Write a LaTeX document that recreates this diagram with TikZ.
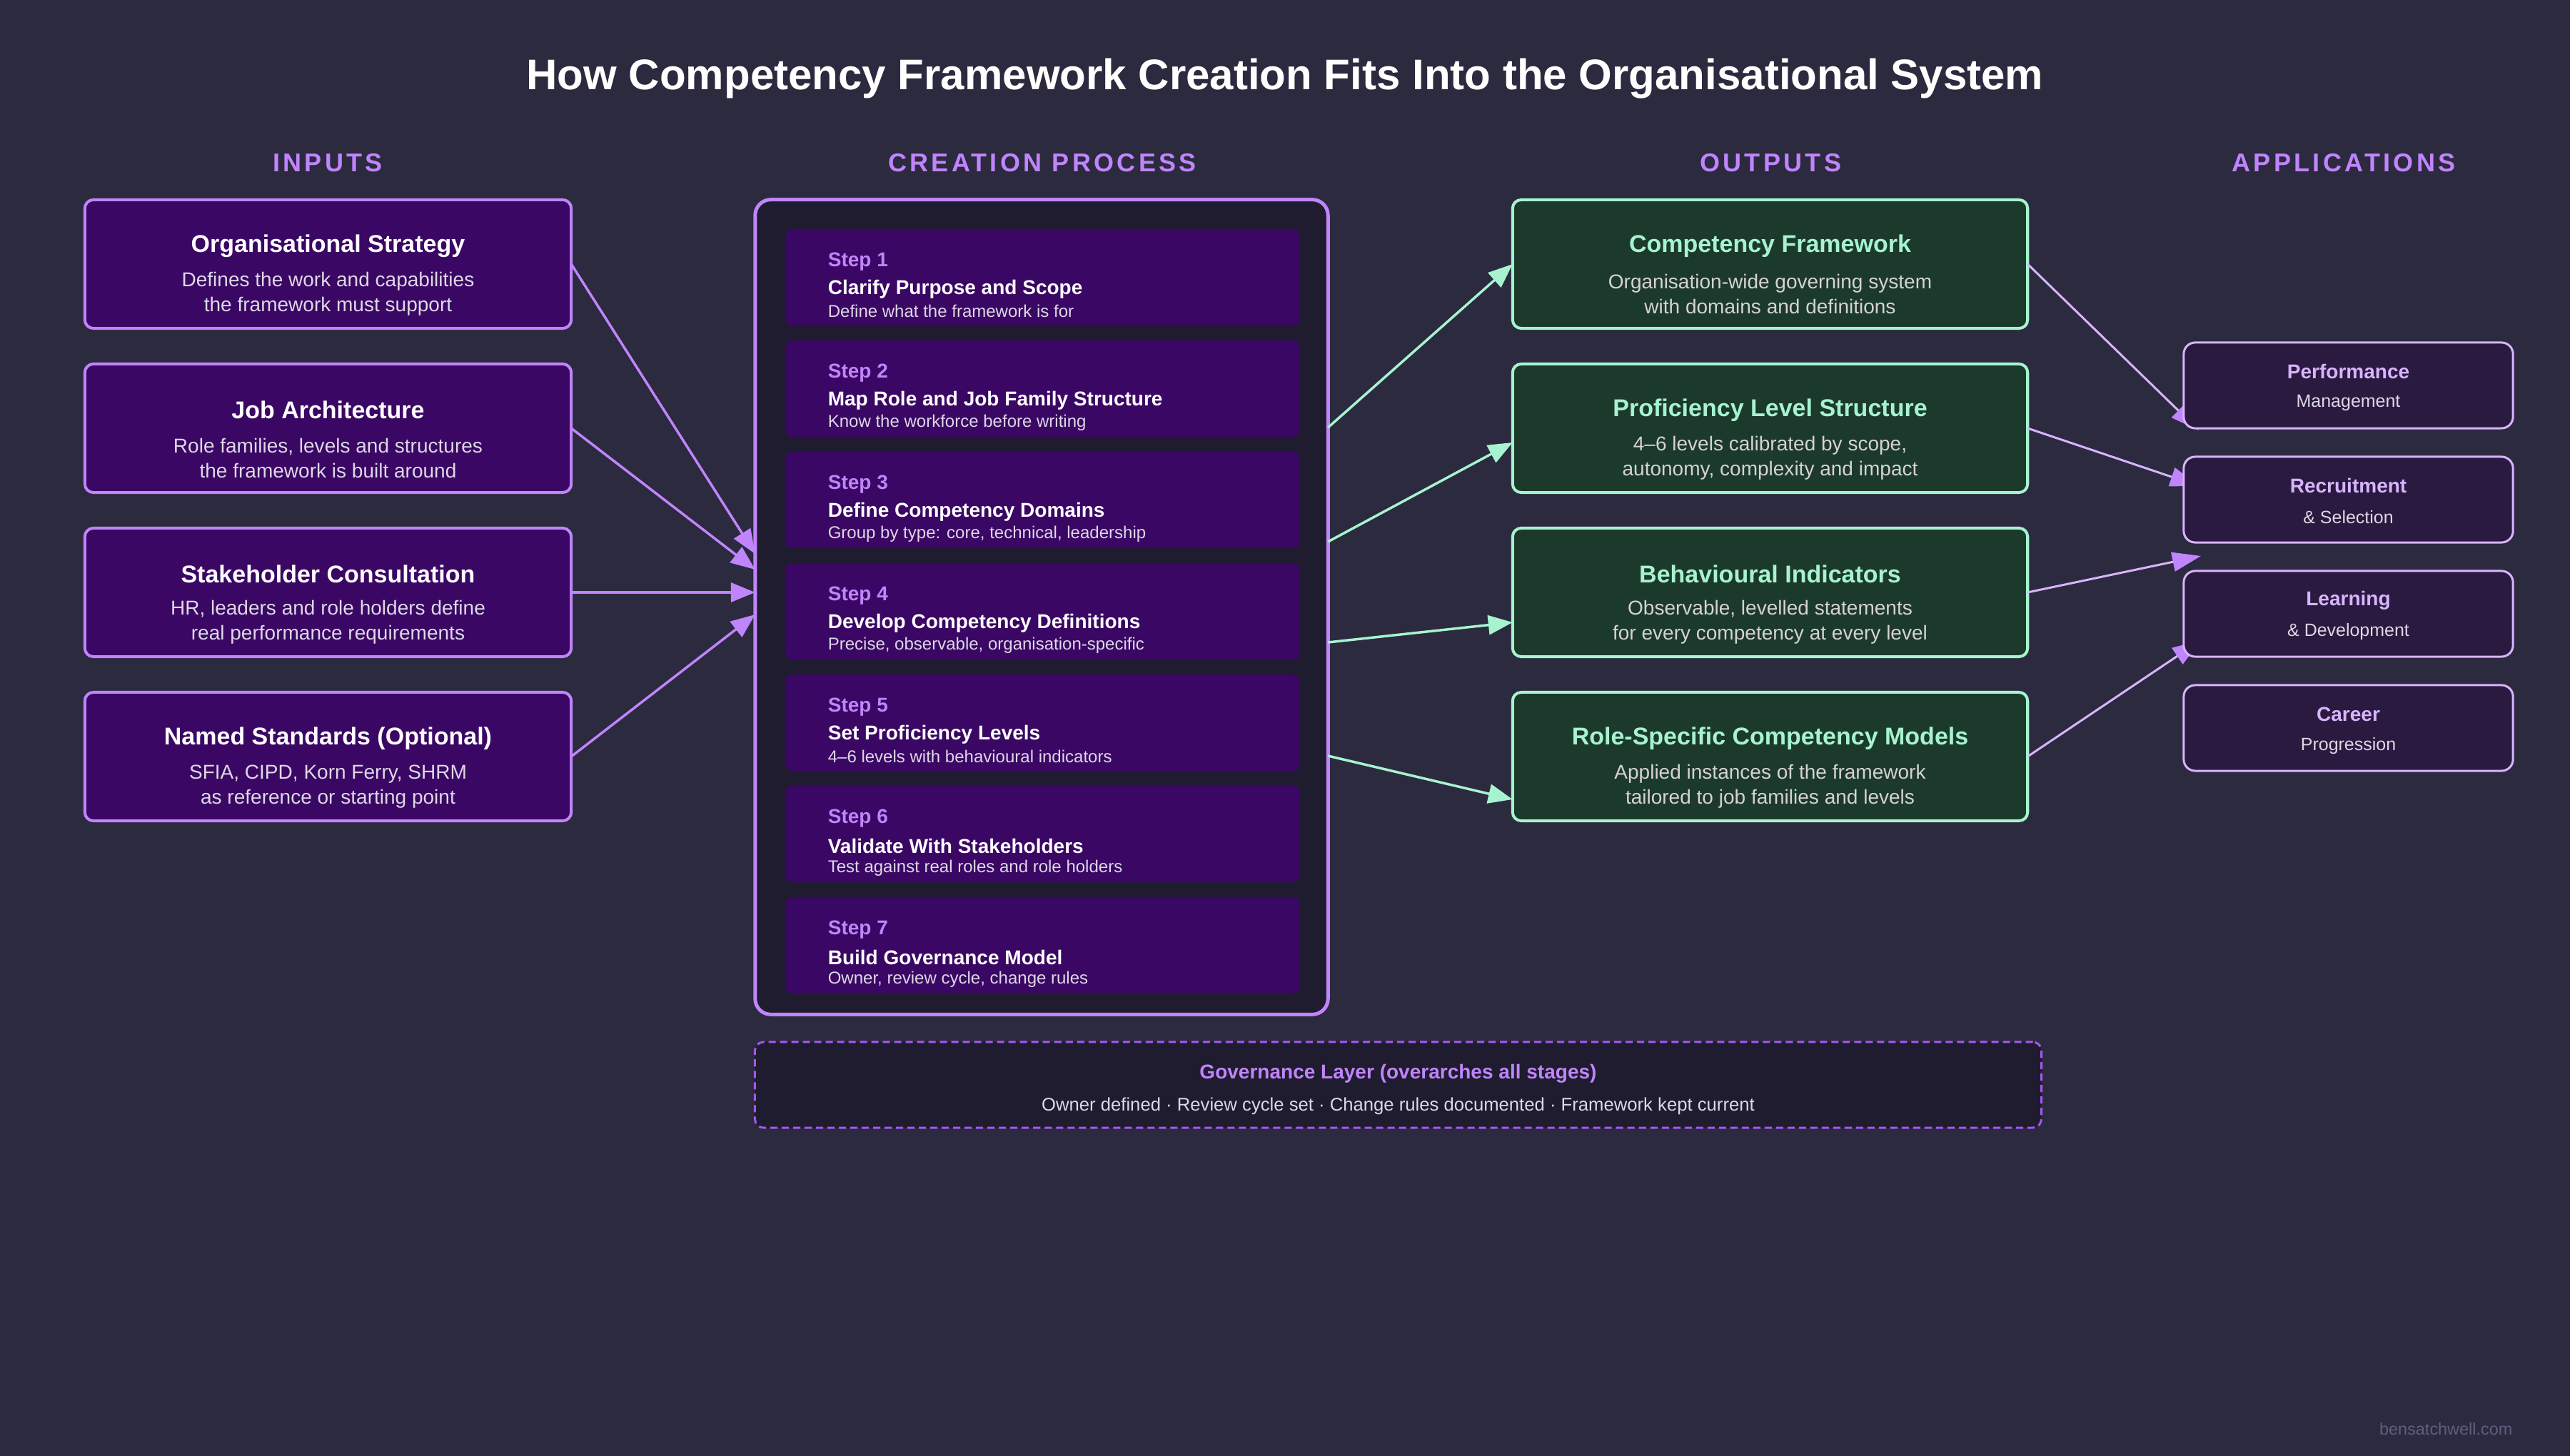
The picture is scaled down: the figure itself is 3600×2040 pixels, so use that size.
\documentclass[tikz,border=0pt]{standalone}
\usepackage{fontspec}
\setmainfont{Liberation Sans}
\newfontfamily\headfont[LetterSpace=12]{Liberation Sans}
\usepackage{tikz}
\usetikzlibrary{arrows.meta,positioning,calc}
\definecolor{cfBg}{HTML}{2B2A3E}
\definecolor{cfPanel}{HTML}{1E1C2E}
\definecolor{cfPurple}{HTML}{C084FC}
\definecolor{cfLilac}{HTML}{D8B4FE}
\definecolor{cfDeep}{HTML}{3B0764}
\definecolor{cfMint}{HTML}{A7F3D0}
\definecolor{cfGreen}{HTML}{1C3A2B}
\definecolor{cfApp}{HTML}{2A1A40}
\definecolor{cfDash}{HTML}{A855F7}
\definecolor{cfText}{HTML}{DDD8E6}
\definecolor{cfWarm}{HTML}{D6D3D1}
\definecolor{cfMark}{HTML}{5C6080}

\begin{document}
\begin{tikzpicture}[
  x=0.01cm, y=-0.01cm,
  inbox/.style={draw=cfPurple,fill=cfDeep,line width=0.4mm,rounded corners=1.2mm,
    minimum width=6.81cm,minimum height=1.8cm,inner sep=0pt,outer sep=0pt},
  outbox/.style={inbox,draw=cfMint,fill=cfGreen,minimum width=7.21cm},
  appbox/.style={draw=cfLilac,fill=cfApp,line width=0.3mm,rounded corners=1.6mm,
    minimum width=4.61cm,minimum height=1.2cm,inner sep=0pt,outer sep=0pt},
  stepbox/.style={fill=cfDeep,rounded corners=1mm,minimum width=7.21cm,
    minimum height=1.35cm,inner sep=0pt},
  panel/.style={draw=cfPurple,fill=cfPanel,line width=0.5mm,rounded corners=2.2mm,
    minimum width=8.02cm,minimum height=11.41cm,inner sep=0pt,outer sep=0pt},
  govbox/.style={draw=cfDash,fill=cfPanel,line width=0.3mm,rounded corners=1.2mm,
    dash pattern=on 1mm off 0.6mm,minimum width=18.01cm,minimum height=1.2cm,inner sep=0pt},
  hd/.style={font=\headfont\bfseries\fontsize{10.24pt}{12pt}\selectfont,text=cfPurple},
  bt/.style={font=\bfseries\fontsize{9.67pt}{11.6pt}\selectfont,text=white,inner sep=0pt},
  bd/.style={font=\fontsize{7.97pt}{9.96pt}\selectfont,text=cfText,align=center,inner sep=0pt},
  sl/.style={font=\bfseries\fontsize{7.97pt}{9.6pt}\selectfont,text=cfPurple,anchor=west,inner sep=0pt},
  st/.style={font=\bfseries\fontsize{7.97pt}{9.6pt}\selectfont,text=white,anchor=west,inner sep=0pt},
  sd/.style={font=\fontsize{6.83pt}{8pt}\selectfont,text=cfText,anchor=west,inner sep=0pt},
  apptitle/.style={font=\bfseries\fontsize{7.97pt}{9.6pt}\selectfont,text=cfLilac,inner sep=0pt},
  appsub/.style={font=\fontsize{7.1pt}{8.5pt}\selectfont,text=cfText,inner sep=0pt},
  artip/.style={-{Triangle[length=3.4mm,width=2.7mm]}},
  inar/.style={artip,draw=cfPurple,line width=0.35mm},
  outar/.style={artip,draw=cfMint,line width=0.35mm},
  appar/.style={-{Triangle[length=4mm,width=2.7mm,color=cfPurple]},draw=cfLilac,line width=0.3mm}
]
\fill[cfBg] (0,0) rectangle (3600,2040);
\useasboundingbox (0,0) rectangle (3600,2040);

% title and column heads
\node[font=\bfseries\fontsize{17.07pt}{20pt}\selectfont,text=white] (title) at (1800,110)
  {How Competency Framework Creation Fits Into the Organisational System};
\node[hd] (hIn) at (459,228) {INPUTS};
\node[hd] (hProc) at (1460,228) {CREATION PROCESS};
\node[hd] (hOut) at (2480,228) {OUTPUTS};
\node[hd] (hApp) at (3283,228) {APPLICATIONS};

% inputs
\node[inbox] (in1) at (459.5,370) {};
\node[inbox] (in2) at (459.5,600) {};
\node[inbox] (in3) at (459.5,830) {};
\node[inbox] (in4) at (459.5,1060) {};
\node[bt] (in1t) at ($(in1.north)+(0,64.5)$) {Organisational Strategy};
\node[bd] (in1d) at ($(in1.north)+(0,132)$) {Defines the work and capabilities\\the framework must support};
\node[bt] (in2t) at ($(in2.north)+(0,64.5)$) {Job Architecture};
\node[bd] (in2d) at ($(in2.north)+(0,132)$) {Role families, levels and structures\\the framework is built around};
\node[bt] (in3t) at ($(in3.north)+(0,64.5)$) {Stakeholder Consultation};
\node[bd] (in3d) at ($(in3.north)+(0,132)$) {HR, leaders and role holders define\\real performance requirements};
\node[bt] (in4t) at ($(in4.north)+(0,64.5)$) {Named Standards (Optional)};
\node[bd] (in4d) at ($(in4.north)+(0,132)$) {SFIA, CIPD, Korn Ferry, SHRM\\as reference or starting point};

% creation process
\node[panel] (proc) at (1459,850.5) {};
\foreach \i/\ttl/\dsc in {
  1/Clarify Purpose and Scope/Define what the framework is for,
  2/Map Role and Job Family Structure/Know the workforce before writing,
  3/Define Competency Domains/{Group by type: core, technical, leadership},
  4/Develop Competency Definitions/{Precise, observable, organisation-specific},
  5/Set Proficiency Levels/4–6 levels with behavioural indicators,
  6/Validate With Stakeholders/Test against real roles and role holders,
  7/Build Governance Model/{Owner, review cycle, change rules}}{
  \node[stepbox] (s\i) at (1460.5,{388.5+156*(\i-1)}) {};
  \node[sl] (s\i l) at ($(s\i.north west)+(60,46)$) {Step \i};
  \node[st] (s\i t) at ($(s\i.north west)+(60,85)$) {\ttl};
  \node[sd] (s\i d) at ($(s\i.north west)+(60,116)$) {\dsc};
}

% outputs
\node[outbox] (out1) at (2479.5,370) {};
\node[outbox] (out2) at (2479.5,600) {};
\node[outbox] (out3) at (2479.5,830) {};
\node[outbox] (out4) at (2479.5,1060) {};
\node[bt,text=cfMint] (out1t) at ($(out1.north)+(0,64.5)$) {Competency Framework};
\node[bd,text=cfWarm] (out1d) at ($(out1.north)+(0,132)$) {Organisation-wide governing system\\with domains and definitions};
\node[bt,text=cfMint] (out2t) at ($(out2.north)+(0,64.5)$) {Proficiency Level Structure};
\node[bd,text=cfWarm] (out2d) at ($(out2.north)+(0,132)$) {4–6 levels calibrated by scope,\\autonomy, complexity and impact};
\node[bt,text=cfMint] (out3t) at ($(out3.north)+(0,64.5)$) {Behavioural Indicators};
\node[bd,text=cfWarm] (out3d) at ($(out3.north)+(0,132)$) {Observable, levelled statements\\for every competency at every level};
\node[bt,text=cfMint] (out4t) at ($(out4.north)+(0,64.5)$) {Role-Specific Competency Models};
\node[bd,text=cfWarm] (out4d) at ($(out4.north)+(0,132)$) {Applied instances of the framework\\tailored to job families and levels};

% applications (placed first, drawn after the connectors)
\coordinate (app1) at (3289.5,540);
\coordinate (app2) at (3289.5,700);
\coordinate (app3) at (3289.5,860);
\coordinate (app4) at (3289.5,1020);

% governance layer
\node[govbox] (gov) at (1958.5,1520) {};
\node[apptitle,text=cfPurple] (govt) at ($(gov.north)+(0,46)$) {Governance Layer (overarches all stages)};
\node[font=\fontsize{7.3pt}{9pt}\selectfont,text=cfText,inner sep=0pt] (govd) at ($(gov.north)+(0,91)$)
  {Owner defined · Review cycle set · Change rules documented · Framework kept current};

% connectors
\draw[inar] (in1.east) -- ($(proc.west)+(0,-74.5)$);
\draw[inar] (in2.east) -- ($(proc.west)+(0,-52.5)$);
\draw[inar] (in3.east) -- ($(proc.west)+(0,-20.5)$);
\draw[inar] (in4.east) -- ($(proc.west)+(0,10.5)$);
\draw[outar] ($(proc.east)+(0,-251.5)$) -- (out1.west);
\draw[outar] ($(proc.east)+(0,-91.5)$) -- ($(out2.west)+(0,20)$);
\draw[outar] ($(proc.east)+(0,49.5)$) -- ($(out3.west)+(0,42)$);
\draw[outar] ($(proc.east)+(0,208.5)$) -- ($(out4.west)+(0,60)$);
\draw[appar] (out1.east) -- ($(app1)+(-209.5,63)$);
\draw[appar] (out2.east) -- ($(app2)+(-209.5,-19)$);
\draw[appar] (out3.east) -- ($(app2)+(-206.5,79)$);
\draw[appar] (out4.east) -- ($(app3)+(-206.5,37)$);

% application boxes over the arrow tips
\node[appbox] (a1) at (app1) {};
\node[appbox] (a2) at (app2) {};
\node[appbox] (a3) at (app3) {};
\node[appbox] (a4) at (app4) {};
\node[apptitle] (a1t) at ($(a1.north)+(0,41)$) {Performance};
\node[appsub] (a1s) at ($(a1.north)+(0,85)$) {Management};
\node[apptitle] (a2t) at ($(a2.north)+(0,41)$) {Recruitment};
\node[appsub] (a2s) at ($(a2.north)+(0,85)$) {\& Selection};
\node[apptitle] (a3t) at ($(a3.north)+(0,41)$) {Learning};
\node[appsub] (a3s) at ($(a3.north)+(0,85)$) {\& Development};
\node[apptitle] (a4t) at ($(a4.north)+(0,41)$) {Career};
\node[appsub] (a4s) at ($(a4.north)+(0,85)$) {Progression};

\node[anchor=east,font=\fontsize{6.66pt}{8pt}\selectfont,text=cfMark,inner sep=0pt] (mark) at (3520,2002) {bensatchwell.com};
\end{tikzpicture}
\end{document}
